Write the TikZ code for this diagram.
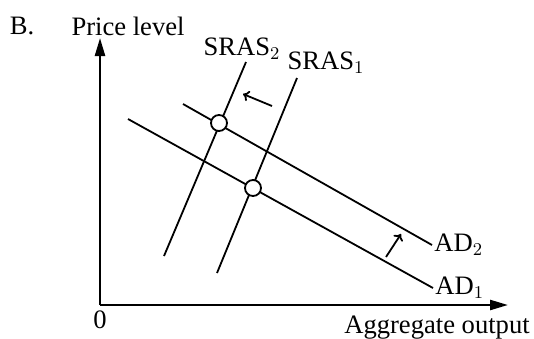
\documentclass[tikz,border=0pt]{standalone}
\usepackage{fontspec}
\setmainfont{Liberation Serif}
\usetikzlibrary{arrows.meta,calc}

\begin{document}
\begin{tikzpicture}[
    x=0.5pt,y=-0.5pt,
    font=\fontsize{13.3}{15}\selectfont,
    axis/.style={draw=black,line width=1.2pt,-{Triangle[length=9pt,width=5pt]}},
    curve/.style={draw=black,line width=0.9pt},
    shiftarrow/.style={draw=black,line width=0.9pt,-{To[length=3pt,width=5.5pt]}},
    eqpt/.style={circle,draw=black,fill=white,line width=0.9pt,minimum size=8pt,inner sep=0pt},
    lbl/.style={inner sep=1pt}
]
\useasboundingbox (0,0) rectangle (534,338);
% axes
\coordinate (origin) at (100,305);
\coordinate (ytip) at (100,38);
\coordinate (xtip) at (508,305);
\draw[axis] (origin) -- (ytip);
\draw[axis] (origin) -- (xtip);
\node[lbl] (zero) at (100,320) {0};
\node[lbl] (ylabel) at (128,26) {Price level};
\node[lbl] (xlabel) at (437,328) {Aggregate output};
\node[lbl] (part) at (22,26) {B.};
% demand curves
\coordinate (ad1top) at (128,119);
\coordinate (ad1end) at (433,288);
\coordinate (ad2top) at (183,104);
\coordinate (ad2end) at (432,245);
\draw[curve] (ad1top) -- (ad1end);
\draw[curve] (ad2top) -- (ad2end);
\node[lbl,anchor=west] (ad1) at (ad1end) {AD$_1$};
\node[lbl,anchor=west] (ad2) at (ad2end) {AD$_2$};
% supply curves
\coordinate (sras1bot) at (217,273);
\coordinate (sras1top) at (297,78);
\coordinate (sras2bot) at (164,256);
\coordinate (sras2top) at (246,62);
\draw[curve] (sras1bot) -- (sras1top);
\draw[curve] (sras2bot) -- (sras2top);
\node[lbl] (sras1) at (326,63) {SRAS$_1$};
\node[lbl] (sras2) at (242,49) {SRAS$_2$};
% shifts
\coordinate (sfrom) at (272,106);
\coordinate (sto) at (243,94);
\draw[shiftarrow] (sfrom) -- (sto);
\coordinate (dfrom) at (386,257);
\coordinate (dto) at (401,234);
\draw[shiftarrow] (dfrom) -- (dto);
% equilibria
\node[eqpt] (e2) at (219,123) {};
\node[eqpt] (e1) at (253,188) {};
\end{tikzpicture}
\end{document}
